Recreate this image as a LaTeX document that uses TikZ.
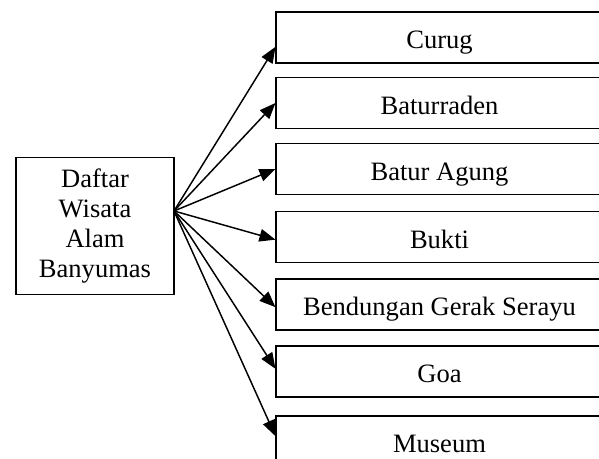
\documentclass[tikz,border=0pt]{standalone}
\usepackage{fontspec}
\setmainfont{Liberation Serif}
\usetikzlibrary{arrows.meta}
\begin{document}
\begin{tikzpicture}[x=0.75pt,y=-0.75pt,
  itembox/.style={draw, line width=0.8pt, minimum width=245.25pt, minimum height=38.25pt,
    inner sep=0pt, text height=17.25pt, text depth=0.25pt, font=\fontsize{19.9}{22.5}\selectfont},
  mainbox/.style={draw, line width=0.8pt, minimum width=118.5pt, minimum height=103pt,
    inner sep=0pt, align=center, font=\fontsize{19.9}{22.5}\selectfont},
  arr/.style={line width=1.1pt, -{Triangle[length=12pt,width=9.5pt]}}]
\useasboundingbox (0,0) rectangle (599,459);
\clip (0,0) rectangle (599,459);
\node[mainbox] (main) at (95,226) {Daftar\\Wisata\\Alam\\Banyumas};
\coordinate (src) at (174,211);
\node[itembox] (curug) at (439.5,37.5) {Curug};
\node[itembox] (baturraden) at (439.5,103) {Baturraden};
\node[itembox] (baturagung) at (439.5,169) {Batur Agung};
\node[itembox] (bukti) at (439.5,237) {Bukti};
\node[itembox] (bendungan) at (439.5,304.5) {Bendungan Gerak Serayu};
\node[itembox] (goa) at (439.5,371.5) {Goa};
\node[itembox] (museum) at (439.5,441.5) {Museum};
\draw[arr] (src) -- ([yshift=-7pt]curug.west);
\draw[arr] (src) -- (baturraden.west);
\draw[arr] (src) -- (baturagung.west);
\draw[arr] (src) -- ([yshift=-2pt]bukti.west);
\draw[arr] (src) -- ([yshift=-2pt]bendungan.west);
\draw[arr] (src) -- ([yshift=2pt]goa.west);
\draw[arr] (src) -- ([yshift=4pt]museum.west);
\end{tikzpicture}
\end{document}
